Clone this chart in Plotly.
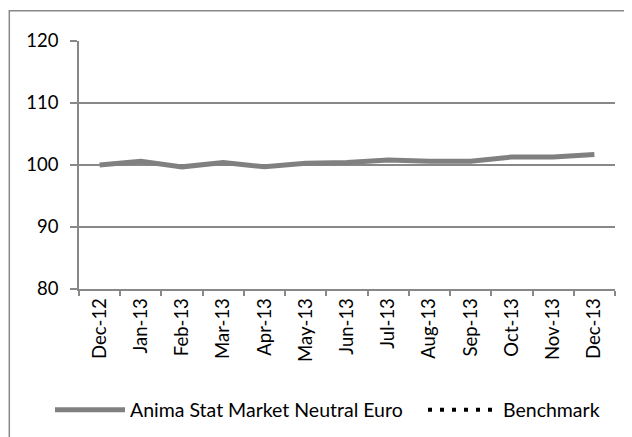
import plotly.graph_objects as go

months = ["Dec-12", "Jan-13", "Feb-13", "Mar-13", "Apr-13", "May-13", "Jun-13",
          "Jul-13", "Aug-13", "Sep-13", "Oct-13", "Nov-13", "Dec-13"]
fund = [100.0, 100.6, 99.7, 100.4, 99.7, 100.3, 100.4, 100.8, 100.6, 100.6, 101.3, 101.3, 101.7]
benchmark = [None] * len(months)

FONT = "Lato"
OFF = 8  # default browser body margin

fig = go.Figure()
fig.add_trace(go.Scatter(x=months, y=fund, mode="lines", name="Anima Stat Market Neutral Euro",
                         line=dict(color="#808080", width=5), legend="legend"))
fig.add_trace(go.Scatter(x=months, y=benchmark, mode="lines", name="Benchmark",
                         line=dict(color="#000000", width=4, dash="4px,8px"), legend="legend2"))

L, R, T, B = 79, 615, 41, 289
W, H = 632, 437
pw, ph = R - L, B - T

legend_common = dict(orientation="h", xanchor="left", y=(B - 410) / ph, yanchor="middle",
                     itemwidth=70, font=dict(family=FONT, size=19.5), bgcolor="rgba(0,0,0,0)")

fig.update_layout(
    width=W - OFF, height=H - OFF,
    margin=dict(l=L - OFF, r=W - R, t=T - OFF, b=H - B, autoexpand=False),
    paper_bgcolor="white", plot_bgcolor="white",
    font=dict(family=FONT, size=18.5, color="#000000"),
    showlegend=True,
    legend=dict(x=(50 - L) / pw, **legend_common),
    legend2=dict(x=(423 - L) / pw, **legend_common),
    xaxis=dict(type="category", showgrid=False, showline=True, linecolor="#888888", linewidth=1.5,
               ticks="outside", tickson="boundaries", ticklen=5, tickcolor="#888888", tickwidth=1.5,
               tickangle=-90, range=[-0.5, len(months) - 0.5], zeroline=False, automargin=False),
    yaxis=dict(range=[80, 120], dtick=10, showgrid=True, gridcolor="#888888", gridwidth=1.5,
               showline=True, linecolor="#888888", linewidth=1.5, ticks="outside", ticklen=7,
               tickcolor="#888888", tickwidth=1.5, zeroline=False, ticklabelstandoff=8,
               automargin=False),
    shapes=[dict(type="rect", xref="paper", yref="paper",
                 x0=(9.3 - L) / pw, x1=(W + 10 - L) / pw,
                 y0=(B - (H + 10)) / ph, y1=(B - 10.7) / ph,
                 line=dict(color="#888888", width=1.5), fillcolor="rgba(0,0,0,0)", layer="below")],
)

fig.write_html("out.html")
